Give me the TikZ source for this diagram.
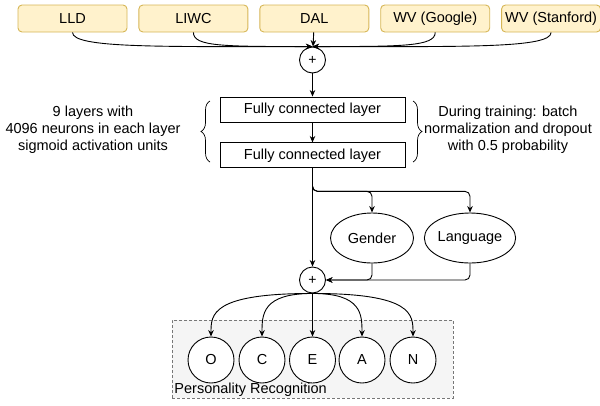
\documentclass[tikz,border=0pt]{standalone}
\usepackage{fontspec}
\setmainfont{Liberation Sans}
\usetikzlibrary{arrows.meta,positioning,calc,decorations.pathreplacing,shapes.geometric}

\definecolor{featfill}{HTML}{FFF2CC}
\definecolor{featdraw}{HTML}{D6B656}
\definecolor{grpfill}{HTML}{F5F5F5}
\definecolor{grpdraw}{HTML}{777777}

\begin{document}
\begin{tikzpicture}[x=1pt, y=-1pt, line width=0.9pt, >={Stealth[length=6.5pt,width=5.5pt]},
  every node/.style={font=\fontsize{14.5}{17}\selectfont},
  feat/.style={draw=featdraw, fill=featfill, rounded corners=4pt, minimum height=27pt, minimum width=109pt, inner sep=0pt},
  fc/.style={draw, fill=white, minimum width=185pt, minimum height=25pt, inner sep=0pt},
  sum/.style={draw, circle, fill=white, minimum size=26pt, inner sep=0pt, font=\fontsize{14}{16}\selectfont},
  aux/.style={draw, ellipse, fill=white, minimum width=83pt, minimum height=50pt, inner sep=0pt},
  trait/.style={draw, circle, fill=white, minimum size=46pt, inner sep=0pt},
  grp/.style={draw=grpdraw, fill=grpfill, dash pattern=on 3pt off 2pt, line width=0.7pt, minimum width=281pt, minimum height=78pt, inner sep=0pt},
  brc/.style={decorate, decoration={brace, amplitude=9pt}, line width=0.7pt}]
  \useasboundingbox (0,0) rectangle (600,405);

  \node[feat] (lld) at (72.5,18.5) {LLD};
  \node[feat, right=11pt of lld] (liwc) {LIWC};
  \node[feat, right=11pt of liwc] (dal) {DAL};
  \node[feat, right=11pt of dal] (wvg) {WV (Google)};
  \node[feat, right=11pt of wvg, minimum width=99pt] (wvs) {WV (Stanford)};

  \node[sum] (plus1) at (312.5,60) {+};
  \draw[->] (lld.south) .. controls +(0,16) and +(-150,0) .. (plus1.north);
  \draw[->] (liwc.south) .. controls +(0,14) and +(-90,0) .. (plus1.north);
  \draw[->] (dal) -- (plus1);
  \draw[->] (wvg.south) .. controls +(0,14) and +(90,0) .. (plus1.north);
  \draw[->] (wvs.south) .. controls +(0,16) and +(150,0) .. (plus1.north);

  \node[fc] (fc1) at (312.5,109.5) {Fully connected layer};
  \node[fc, below=20pt of fc1] (fc2) {Fully connected layer};
  \draw[->] (plus1) -- (fc1);
  \draw[->] (fc1) -- (fc2);

  \draw[brc] (210,162) -- (210,101) node[coordinate, midway] (lbr) {};
  \draw[brc] (413,101) -- (413,162) node[coordinate, midway] (rbr) {};
  \node[align=center] (arch) at (93,130) {9 layers with\\4096 neurons in each layer\\sigmoid activation units};
  \node[align=center] (train) at (508,130) {During training: batch\\normalization and dropout\\with 0.5 probability};

  \node[aux] (gender) at (372,238) {Gender};
  \node[aux, minimum width=85pt] (lang) at (470,238) {Language};
  \node[sum] (plus2) at (312.5,280) {+};
  \draw[->] (fc2) -- (plus2);
  \draw[->, rounded corners=5pt] (fc2.south) -- ++(0,23) -| (gender.north);
  \draw[->, rounded corners=5pt] (fc2.south) -- ++(0,23) -| (lang.north);
  \draw[->, rounded corners=5pt] (gender.south) |- (plus2.east);
  \draw[->, rounded corners=5pt] (lang.south) |- (plus2.east);

  \node[grp] (prbox) at (312.5,359) {};
  \node[anchor=west, inner sep=0pt] (prlab) at (174,390) {Personality Recognition};
  \foreach \t/\x in {O/211,C/262,E/312.5,A/362,N/413}
    \node[trait] (tr\t) at (\x,360) {\t};
  \draw[->] (plus2) -- (trE);
  \foreach \t in {O,C,A,N}
    \draw[->] (plus2.south) .. controls (plus2.south -| tr\t.north) and ($(tr\t.north)+(0,-22)$) .. (tr\t.north);
\end{tikzpicture}
\end{document}
